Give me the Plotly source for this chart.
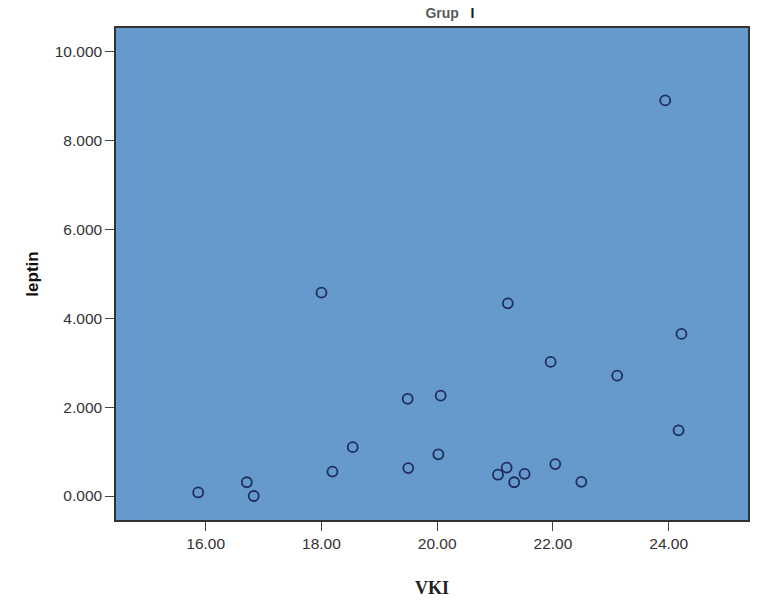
import plotly.graph_objects as go

vki = [15.87, 16.71, 16.83, 18.00, 18.19, 18.54, 19.49, 19.50, 20.06, 20.02,
       21.05, 21.20, 21.22, 21.33, 21.51, 21.96, 22.04, 22.49, 23.11, 23.94,
       24.22, 24.17]
leptin = [0.08, 0.31, 0.00, 4.58, 0.55, 1.10, 2.19, 0.63, 2.26, 0.94,
          0.48, 0.64, 4.34, 0.31, 0.50, 3.02, 0.72, 0.32, 2.71, 8.91,
          3.65, 1.48]

x_ticks = [16, 18, 20, 22, 24]
x_labels = ["16.00", "18.00", "20.00", "22.00", "24.00"]
y_ticks = [0, 2, 4, 6, 8, 10]
y_labels = ["0.000", "2.000", "4.000", "6.000", "8.000", "10.000"]

fig = go.Figure()
fig.add_trace(go.Scatter(
    x=vki, y=leptin, mode="markers",
    marker=dict(symbol="circle-open", size=10, color="#1f2d5c",
                line=dict(width=1.8, color="#1f2d5c")),
    showlegend=False, hoverinfo="x+y"))

fig.update_layout(
    width=757, height=608,
    margin=dict(l=116, r=7, t=28, b=88),
    paper_bgcolor="white",
    plot_bgcolor="#6699cc",
    font=dict(family="Arial, Liberation Sans, sans-serif"),
    title=dict(text="<b>Grup   </b><b><span style='color:#1a1a1a'>I</span></b>",
               x=450 / 757, xanchor="center", y=1 - 13 / 608, yanchor="middle",
               font=dict(size=14, color="#5a5a5a", family="Arial, Liberation Sans")),
)

fig.update_xaxes(
    range=[14.45, 25.37], tickvals=x_ticks, ticktext=x_labels,
    showgrid=False, zeroline=False,
    showline=True, linecolor="#333", linewidth=1.5, mirror=True,
    ticks="outside", ticklen=9, tickwidth=1.2, tickcolor="#444",
    tickfont=dict(size=15.5, color="#333"),
    title=dict(text="<b>VKI</b>", standoff=30,
               font=dict(size=18, color="#222", family="Liberation Serif, Times New Roman, serif")))
fig.update_yaxes(
    range=[-0.54, 10.54], tickvals=y_ticks, ticktext=y_labels,
    showgrid=False, zeroline=False,
    showline=True, linecolor="#333", linewidth=1.5, mirror=True,
    ticks="outside", ticklen=9, tickwidth=1.2, tickcolor="#444",
    tickfont=dict(size=15.5, color="#333"),
    title=dict(text="<b>leptin</b>", standoff=12,
               font=dict(size=17, color="#111", family="Arial, Liberation Sans")))

fig.write_html("out.html")
